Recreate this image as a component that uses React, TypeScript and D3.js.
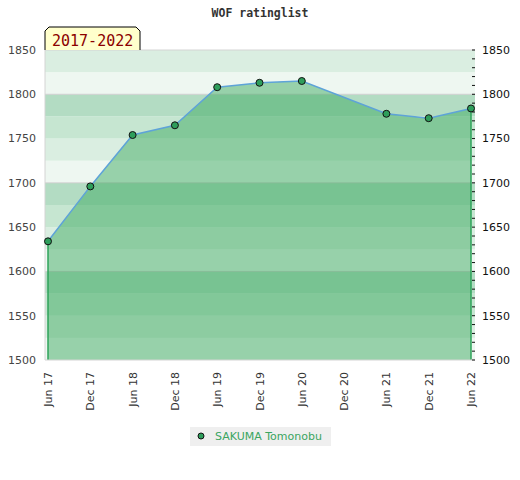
import * as d3 from "d3";

// ---- data ----
const periodLabels = [
	"Jun 17", "Dec 17", "Jun 18", "Dec 18", "Jun 19", "Dec 19",
	"Jun 20", "Dec 20", "Jun 21", "Dec 21", "Jun 22",
];
// Dec 20 has no entry: the line runs straight from Jun 20 to Jun 21
const ratingPeriods = [
	"Jun 17", "Dec 17", "Jun 18", "Dec 18", "Jun 19", "Dec 19",
	"Jun 20", "Jun 21", "Dec 21", "Jun 22",
];
const ratingValues = [1634, 1696, 1754, 1765, 1808, 1813, 1815, 1778, 1773, 1784];
const yTickValues = [1500, 1550, 1600, 1650, 1700, 1750, 1800, 1850];
const playerName = "SAKUMA Tomonobu";
const chartTitle = "WOF ratinglist";
const rangeLabel = "2017-2022";

const W = 520;
const H = 480;
const plot = { left: 45, right: 475, top: 50, bottom: 360 };

// band shades, keyed by position inside each hundred
const bandColors = ["#b3dcc3", "#eef7f1", "#daeee1", "#c6e6d1"];

interface Point {
	period: string;
	value: number;
}

export default function App() {
	const data: Point[] = ratingPeriods.map((p, i) => ({ period: p, value: ratingValues[i] }));

	const x = d3
		.scalePoint<string>()
		.domain(periodLabels)
		.range([plot.left + 3, plot.right - 4]);

	const y = d3.scaleLinear().domain([1500, 1850]).range([plot.bottom, plot.top]);

	const px = (d: Point) => x(d.period) as number;

	const line = d3
		.line<Point>()
		.x(px)
		.y((d) => y(d.value));

	const area = d3
		.area<Point>()
		.x(px)
		.y0(y(1500))
		.y1((d) => y(d.value));

	// 25-point background bands
	const bandTops = d3.range(1525, 1851, 25);
	const minorTicks = d3.range(1500, 1851, 10);

	const first = data[0];
	const last = data[data.length - 1];

	const font = "'DejaVu Sans', Verdana, sans-serif";
	const mono = "'DejaVu Sans Mono', monospace";

	const box = { l: 45, r: 140, t: 27, b: 50, c: 4 };

	return (
		<svg
			width={W}
			height={H}
			viewBox={`0 0 ${W} ${H}`}
			style={{ position: "absolute", left: 0, top: 0, background: "#fff" }}
		>
			{/* title */}
			<text
				x={W / 2}
				y={17}
				textAnchor="middle"
				fontFamily={mono}
				fontWeight="bold"
				fontSize={11.5}
				fill="#333"
			>
				{chartTitle}
			</text>

			{/* background bands */}
			{bandTops.map((top) => {
				const k = Math.round((top % 100) / 25) % 4;
				return (
					<rect
						key={top}
						x={plot.left}
						y={y(top)}
						width={plot.right - plot.left}
						height={y(top - 25) - y(top)}
						fill={bandColors[k]}
					/>
				);
			})}

			{/* hundred grid lines */}
			{[1600, 1700, 1800].map((v) => (
				<line
					key={v}
					x1={plot.left}
					x2={plot.right}
					y1={y(v)}
					y2={y(v)}
					stroke="#cfcfcf"
				/>
			))}

			{/* rating area */}
			<path d={area(data) ?? ""} fill="#39a85c" fillOpacity={0.48} />
			<line x1={px(first)} x2={px(first)} y1={y(first.value)} y2={y(1500)} stroke="#2ea35a" strokeWidth={1.5} />
			<line x1={px(last)} x2={px(last)} y1={y(last.value)} y2={y(1500)} stroke="#2ea35a" strokeWidth={1.5} />
			<path d={line(data) ?? ""} fill="none" stroke="#5ea3d8" strokeWidth={1.5} />

			{/* frame */}
			<line x1={plot.left} x2={plot.right} y1={plot.top} y2={plot.top} stroke="#d4d4d4" />
			<line x1={plot.left} x2={plot.right} y1={plot.bottom} y2={plot.bottom} stroke="#d4d4d4" />
			<line x1={plot.left} x2={plot.left} y1={plot.top} y2={plot.bottom} stroke="#d4d4d4" />

			{/* points */}
			{data.map((d) => (
				<circle
					key={d.period}
					cx={px(d)}
					cy={y(d.value)}
					r={3.5}
					fill="#2e9e5b"
					stroke="#111"
					strokeWidth={1}
				/>
			))}

			{/* left axis labels */}
			{yTickValues.map((v) => (
				<text
					key={`l${v}`}
					x={36}
					y={y(v)}
					dy="0.35em"
					textAnchor="end"
					fontFamily={font}
					fontSize={11}
					fill="#444"
				>
					{v}
				</text>
			))}

			{/* right axis: ticks + labels */}
			{minorTicks.map((v) => (
				<line key={`t${v}`} x1={plot.right - 3} x2={plot.right} y1={y(v)} y2={y(v)} stroke="#111" />
			))}
			{yTickValues.map((v) => (
				<text
					key={`r${v}`}
					x={482}
					y={y(v)}
					dy="0.35em"
					fontFamily={font}
					fontSize={11}
					fill="#111"
				>
					{v}
				</text>
			))}

			{/* x axis labels */}
			{periodLabels.map((p) => (
				<text
					key={p}
					transform={`translate(${(x(p) as number) + 4},372) rotate(-90)`}
					textAnchor="end"
					fontFamily={font}
					fontSize={11}
					fill="#333"
				>
					{p}
				</text>
			))}

			{/* year range tag */}
			<path
				d={`M${box.l},${box.b} V${box.t + box.c} L${box.l + box.c},${box.t} H${box.r - box.c} L${box.r},${box.t + box.c} V${box.b}`}
				fill="#ffffcc"
				stroke="#000"
			/>
			<text x={52} y={46} fontFamily={mono} fontSize={15} fill="#8b0000">
				{rangeLabel}
			</text>

			{/* legend */}
			<rect x={190} y={427} width={141} height={19} fill="#efefef" />
			<circle cx={201} cy={436} r={3} fill="#2e9e5b" stroke="#111" />
			<text x={215} y={440} fontFamily={font} fontSize={11} fill="#3aa55f">
				{playerName}
			</text>
		</svg>
	);
}
